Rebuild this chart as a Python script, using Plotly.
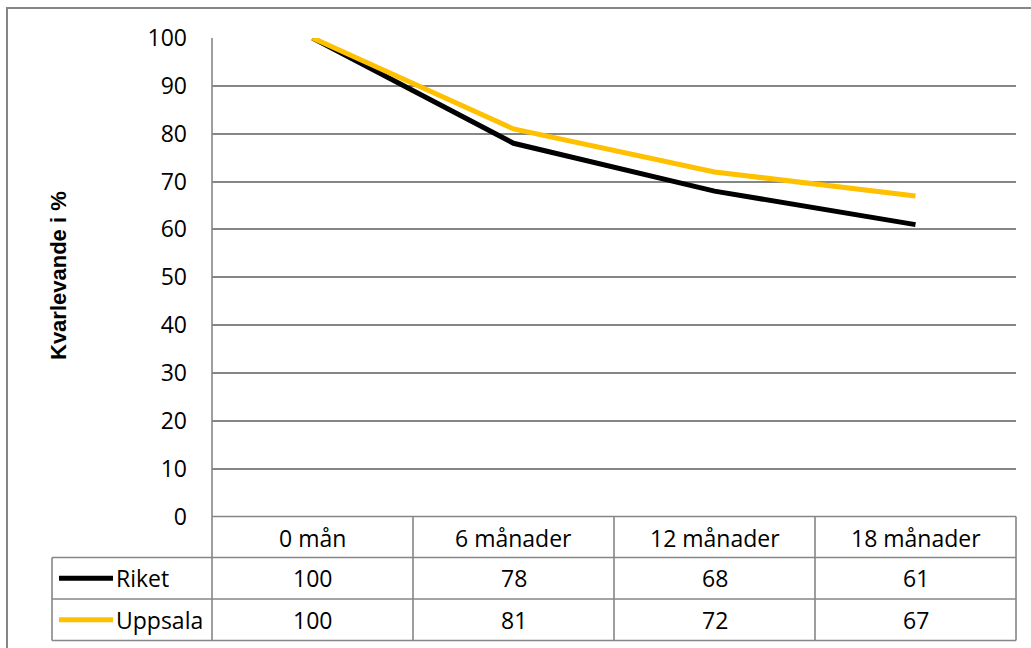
import plotly.graph_objects as go

categories = ["0 mån", "6 månader", "12 månader", "18 månader"]
riket = [100, 78, 68, 61]
uppsala = [100, 81, 72, 67]
series_names = ["Riket", "Uppsala"]
series_colors = ["#000000", "#FFC000"]
y_title = "Kvarlevande i %"

W, H = 1031, 648
GRID = "#868686"
FONT = "Open Sans"
FS = 23

def px(x):
    return x / W

def py(y):
    return 1 - y / H

# plot area in pixels
L, R, T, B = 212, 1016, 38, 516.5
row1, row2, row3 = 557.5, 599, 640.5
tab_left = 52

fig = go.Figure()
xs = list(range(len(categories)))
for name, vals, col in zip(series_names, [riket, uppsala], series_colors):
    fig.add_trace(go.Scatter(x=xs, y=vals, mode="lines", name=name,
                             line=dict(color=col, width=5), showlegend=False,
                             hoverinfo="skip"))

shapes = []
def line(x0, y0, x1, y1, color=GRID, width=1.6):
    shapes.append(dict(type="line", xref="paper", yref="paper",
                       x0=px(x0), y0=py(y0), x1=px(x1), y1=py(y1),
                       line=dict(color=color, width=width), layer="below"))

# outer border
shapes.append(dict(type="rect", xref="paper", yref="paper",
                   x0=px(7), y0=-0.02, x1=1.02, y1=py(8),
                   line=dict(color=GRID, width=2), layer="below"))
# table lines
line(L, T, L, row3)
for i in range(1, len(categories) + 1):
    xv = L + (R - L) * i / len(categories)
    line(xv, B, xv, row3)
line(L, B, R, B)
for yv in [row1, row2, row3]:
    line(tab_left, yv, R, yv)
line(tab_left, row1, tab_left, row3)

annotations = []
ncat = len(categories)
colw = (R - L) / ncat
row_centers = [(B + row1) / 2 + 1, (row1 + row2) / 2, (row2 + row3) / 2]

def txt(x, y, s, xanchor="center", **kw):
    d = dict(x=px(x), y=py(y), xref="paper", yref="paper", text=s, showarrow=False,
             xanchor=xanchor, yanchor="middle",
             font=dict(family=FONT, size=FS, color="#000"))
    d.update(kw)
    annotations.append(d)

for i, c in enumerate(categories):
    txt(L + colw * (i + 0.5), row_centers[0], c)
for r, (name, vals, col) in enumerate(zip(series_names, [riket, uppsala], series_colors)):
    yc = row_centers[r + 1]
    for i, v in enumerate(vals):
        txt(L + colw * (i + 0.5), yc, str(v))
    # legend key
    line(59, yc, 113, yc, color=col, width=5)
    txt(114, yc, name, xanchor="left")

txt(58, 276, "<b>" + y_title + "</b>", textangle=-90,
    font=dict(family="Liberation Sans", size=22, color="#000"))

fig.update_layout(
    width=W, height=H, margin=dict(l=0, r=0, t=0, b=0, pad=0),
    paper_bgcolor="white", plot_bgcolor="white",
    shapes=shapes, annotations=annotations,
    xaxis=dict(domain=[px(L), px(R)], range=[-0.5, ncat - 0.5], automargin=False,
               showgrid=False, zeroline=False, showticklabels=False, showline=False),
    yaxis=dict(domain=[py(B), py(T)], range=[0, 100], dtick=10, automargin=False,
               showgrid=True, gridcolor=GRID, gridwidth=1.6, zeroline=False,
               showline=False, ticks="", ticklabelstandoff=24,
               tickfont=dict(family=FONT, size=FS, color="#000")),
)
fig.write_html("out.html", config={"displayModeBar": False},
               post_script="document.body.style.margin='0px';")
